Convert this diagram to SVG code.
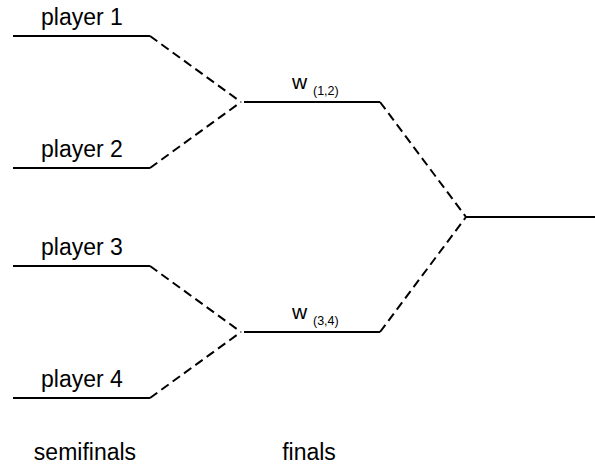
<svg xmlns="http://www.w3.org/2000/svg" width="595" height="468" viewBox="0 0 595 468">
<style>
.solid{stroke:#000;stroke-width:2;fill:none}
.dash{stroke:#000;stroke-width:2;fill:none;stroke-dasharray:9 5}
text{font-family:"Liberation Sans",Arial,sans-serif;fill:#000}
.lbl{font-size:23px}
.w{font-size:21px}
.sub{font-size:12.5px}
.mid{text-anchor:middle}
</style>
<rect width="595" height="468" fill="#fff"/>
<g id="connectors">
<path class="dash" d="M150,36 L241,102"/>
<path class="dash" d="M150,168 L241,102"/>
<path class="dash" d="M150,266 L241,332"/>
<path class="dash" d="M150,398 L241,332"/>
<path class="dash" d="M380,102 L466,217"/>
<path class="dash" d="M380,332 L466,217"/>
</g>
<g id="player1"><line class="solid" x1="13" y1="36" x2="150" y2="36"/><text class="lbl mid" x="82" y="25">player 1</text></g>
<g id="player2"><line class="solid" x1="13" y1="168" x2="150" y2="168"/><text class="lbl mid" x="82" y="157">player 2</text></g>
<g id="player3"><line class="solid" x1="13" y1="266" x2="150" y2="266"/><text class="lbl mid" x="82" y="255">player 3</text></g>
<g id="player4"><line class="solid" x1="13" y1="398" x2="150" y2="398"/><text class="lbl mid" x="82" y="387">player 4</text></g>
<g id="w12"><line class="solid" x1="244" y1="102" x2="380" y2="102"/><text x="292" y="89"><tspan class="w">w</tspan><tspan class="sub" x="313" y="95">(1,2)</tspan></text></g>
<g id="w34"><line class="solid" x1="244" y1="332" x2="380" y2="332"/><text x="292" y="319"><tspan class="w">w</tspan><tspan class="sub" x="313" y="325">(3,4)</tspan></text></g>
<g id="winner"><line class="solid" x1="466" y1="217" x2="595" y2="217"/></g>
<g id="stages"><text class="lbl mid" x="85" y="460">semifinals</text><text class="lbl mid" x="309" y="460">finals</text></g>
</svg>
